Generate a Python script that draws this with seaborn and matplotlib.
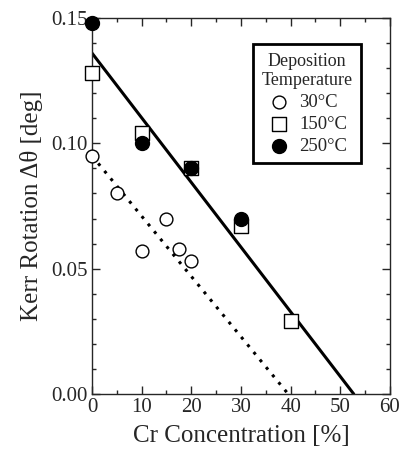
import numpy as np
import pandas as pd
import seaborn as sns
import matplotlib.pyplot as plt
from matplotlib.ticker import MultipleLocator

# data
cr_30 = [0, 5, 10, 15, 17.5, 20]
kerr_30 = [0.095, 0.080, 0.057, 0.070, 0.058, 0.053]
cr_150 = [0, 10, 20, 30, 40]
kerr_150 = [0.128, 0.104, 0.090, 0.067, 0.029]
cr_250 = [0, 10, 20, 30]
kerr_250 = [0.148, 0.100, 0.090, 0.070]

# fitted lines (end points)
fit_hot_x = [0, 52.7]
fit_hot_y = [0.136, 0.0]
fit_cold_x = [0, 39.5]
fit_cold_y = [0.095, 0.0]

sns.set_style('ticks')
plt.rcParams['font.family'] = ['Liberation Serif', 'DejaVu Serif']

fig = plt.figure(figsize=(4.03, 4.57), dpi=100)
ax = fig.add_axes([0.2283, 0.1379, 0.7394, 0.8227])

sns.lineplot(x=fit_hot_x, y=fit_hot_y, ax=ax, color='black', lw=2.2)
sns.lineplot(x=fit_cold_x, y=fit_cold_y, ax=ax, color='black', lw=2.2,
             linestyle=(0, (1, 2.2)))

sns.scatterplot(x=cr_30, y=kerr_30, ax=ax, marker='o', s=85,
                facecolor='white', edgecolor='black', linewidth=1,
                label='30°C', zorder=3, clip_on=False)
sns.scatterplot(x=cr_150, y=kerr_150, ax=ax, marker='s', s=115,
                facecolor='white', edgecolor='black', linewidth=1,
                label='150°C', zorder=3, clip_on=False)
sns.scatterplot(x=cr_250, y=kerr_250, ax=ax, marker='o', s=100,
                color='black', edgecolor='black', linewidth=1,
                label='250°C', zorder=4, clip_on=False)

ax.set_xlim(0, 60)
ax.set_ylim(0, 0.15)
ax.xaxis.set_major_locator(MultipleLocator(10))
ax.xaxis.set_minor_locator(MultipleLocator(5))
ax.yaxis.set_major_locator(MultipleLocator(0.05))
ax.yaxis.set_minor_locator(MultipleLocator(0.01))
ax.yaxis.set_major_formatter(plt.FormatStrFormatter('%.2f'))
ax.tick_params(which='both', direction='in', top=True, right=True,
               labelsize=15, pad=3)
ax.tick_params(which='major', length=6, width=1)
ax.tick_params(which='minor', length=3, width=1)
for sp in ax.spines.values():
    sp.set_linewidth(1)

ax.set_xlabel('Cr Concentration [%]', fontsize=18, labelpad=6)
ax.set_ylabel('Kerr Rotation Δθ [deg]', fontsize=18, labelpad=6)

leg = ax.legend(title='Deposition\nTemperature', loc='upper right',
                bbox_to_anchor=(0.935, 0.955), fontsize=13.5,
                title_fontsize=13, frameon=True, fancybox=False,
                handletextpad=0.4, borderpad=0.45, labelspacing=0.25,
                handlelength=1.3)
leg.get_title().set_multialignment('center')
leg.get_frame().set_edgecolor('black')
leg.get_frame().set_linewidth(2)
leg.get_frame().set_alpha(1)

fig.savefig('out.png', dpi=100)
